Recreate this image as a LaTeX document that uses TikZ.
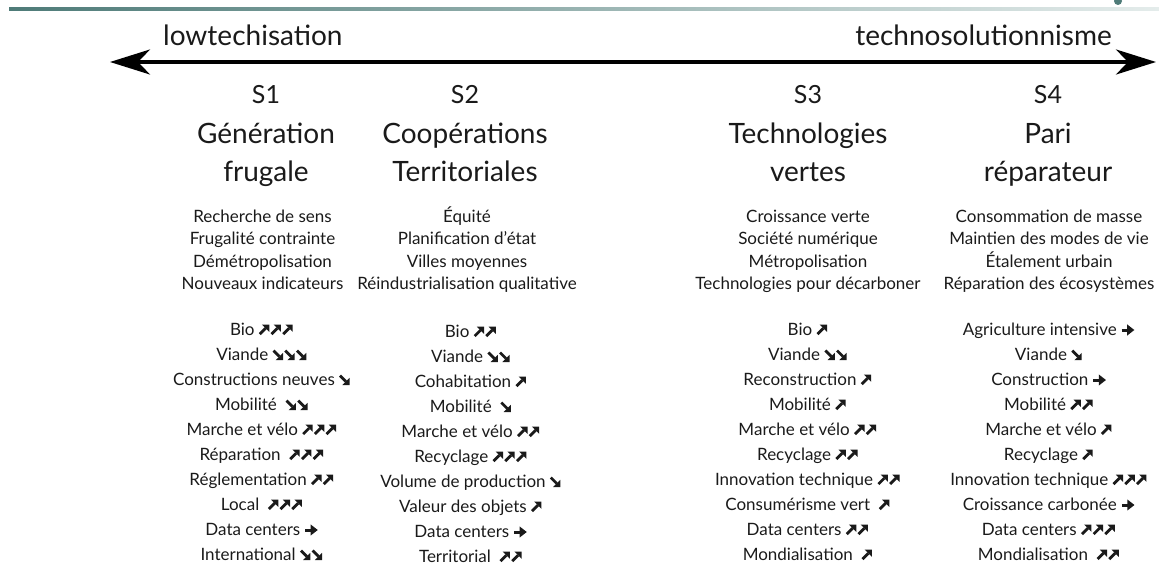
\documentclass[tikz,border=0pt]{standalone}
\usepackage{fontspec}
\setmainfont{Lato}
\usetikzlibrary{arrows.meta}
\definecolor{barteal}{HTML}{4E7B78}
\definecolor{barlight}{HTML}{E4ECEB}
\definecolor{ink}{HTML}{1A1A1A}
% trend glyphs: rising, falling, steady
\newcommand\tup{\tikz[x=1pt,y=1pt,baseline=0pt]{%
  \useasboundingbox (0,0) rectangle (11.7,10);
  \draw[ink, line width=2.8pt] (0.9,0.9) -- (6.8,6.8);
  \fill[ink] (10.4,10.4) -- (3.1,10.4) -- (10.4,3.1) -- cycle;}}
\newcommand\tdn{\tikz[x=1pt,y=1pt,baseline=0pt]{%
  \useasboundingbox (0,0) rectangle (11.7,10);
  \draw[ink, line width=2.8pt] (0.9,9.4) -- (6.8,3.5);
  \fill[ink] (10.4,-0.1) -- (3.1,-0.1) -- (10.4,7.2) -- cycle;}}
\newcommand\trt{\tikz[x=1pt,y=1pt,baseline=0pt]{%
  \useasboundingbox (0,0) rectangle (14,10);
  \draw[ink, line width=3pt] (0.5,5) -- (7,5);
  \fill[ink] (6,10.6) -- (13.2,5) -- (6,-0.6) -- cycle;}}
\begin{document}
\begin{tikzpicture}[x=1pt,y=-1pt,
  axislabel/.style={font=\fontsize{28}{28}\selectfont, text=ink, inner sep=0pt},
  snum/.style={font=\fontsize{25}{25}\selectfont, text=ink, inner sep=0pt, anchor=base},
  head/.style={font=\fontsize{28}{28}\selectfont, text=ink, inner sep=0pt, anchor=base},
  body/.style={font=\fontsize{17}{17}\selectfont, text=ink, inner sep=0pt, anchor=base},
  item/.style={font=\fontsize{17}{17}\selectfont, text=ink, inner sep=0pt, anchor=base},
  axis/.style={line width=3.5pt, {Stealth[length=40pt,width=25pt,inset=12pt]}-{Stealth[length=40pt,width=25pt,inset=12pt]}}]
\useasboundingbox (0,0) rectangle (1159,567);

% header band
\shade[left color=barteal, right color=barlight] (9,8) rectangle (1159,11);
\fill[barteal] (1118,1) circle (4);

% axis between the two extremes
\coordinate (lo) at (110,62);
\coordinate (hi) at (1156,62);
\draw[axis] (lo) -- (hi);
\node[axislabel, anchor=base west] (lowtech) at (163,46) {lowtechisation};
\node[axislabel, anchor=base east] (techno) at (1112,46) {technosolutionnisme};

% scenario titles
\node[snum] (s1n) at (266,104) {S1};
\node[snum] (s2n) at (465,104) {S2};
\node[snum] (s3n) at (808,104) {S3};
\node[snum] (s4n) at (1048,104) {S4};
\foreach \t [count=\i] in {Génération, frugale}
  \node[head] (s1h\i) at (266,{143+(\i-1)*38.5}) {\t};
\foreach \t [count=\i] in {Coopérations, Territoriales}
  \node[head] (s2h\i) at (465,{143+(\i-1)*38.5}) {\t};
\foreach \t [count=\i] in {Technologies, vertes}
  \node[head] (s3h\i) at (808,{143+(\i-1)*38.5}) {\t};
\foreach \t [count=\i] in {Pari, réparateur}
  \node[head] (s4h\i) at (1048,{143+(\i-1)*38.5}) {\t};

% scenario descriptions
\foreach \t [count=\i] in {Recherche de sens, Frugalité contrainte, Démétropolisation, Nouveaux indicateurs}
  \node[body] (s1b\i) at (262.5,{222+(\i-1)*22.5}) {\t};
\foreach \t [count=\i] in {Équité, Planification d'état, Villes moyennes, Réindustrialisation qualitative}
  \node[body] (s2b\i) at (467,{222+(\i-1)*22.5}) {\t};
\foreach \t [count=\i] in {Croissance verte, Société numérique, Métropolisation, Technologies pour décarboner}
  \node[body] (s3b\i) at (808,{222+(\i-1)*22.5}) {\t};
\foreach \t [count=\i] in {Consommation de masse, Maintien des modes de vie, Étalement urbain, Réparation des écosystèmes}
  \node[body] (s4b\i) at (1049,{222+(\i-1)*22.5}) {\t};

% trends
\foreach \t [count=\i] in {Bio \tup\tup\tup, Viande \tdn\tdn\tdn, Constructions neuves \tdn,
    Mobilité\ \ \tdn\tdn, Marche et vélo \tup\tup\tup, Réparation\ \ \tup\tup\tup,
    Réglementation \tup\tup, Local\ \ \tup\tup\tup, Data centers \trt, International \tdn\tdn}
  \node[item] (s1t\i) at (262,{335+(\i-1)*25}) {\t};
\foreach \t [count=\i] in {Bio \tup\tup, Viande \tdn\tdn, Cohabitation \tup,
    Mobilité\ \ \tdn, Marche et vélo \tup\tup, Recyclage \tup\tup\tup,
    Volume de production \tdn, Valeur des objets \tup, Data centers \trt, Territorial\ \ \tup\tup}
  \node[item] (s2t\i) at (471,{337+(\i-1)*25}) {\t};
\foreach \t [count=\i] in {Bio \tup, Viande \tdn\tdn, Reconstruction \tup,
    Mobilité \tup, Marche et vélo \tup\tup, Recyclage \tup\tup,
    Innovation technique \tup\tup, Consumérisme vert\ \ \tup, Data centers \tup\tup, Mondialisation\ \ \tup}
  \node[item] (s3t\i) at (808,{335+(\i-1)*25}) {\t};
\foreach \t [count=\i] in {Agriculture intensive \trt, Viande \tdn, Construction \trt,
    Mobilité \tup\tup, Marche et vélo \tup, Recyclage \tup,
    Innovation technique \tup\tup\tup, Croissance carbonée \trt, Data centers \tup\tup\tup, Mondialisation\ \ \tup\tup}
  \node[item] (s4t\i) at (1049,{335+(\i-1)*25}) {\t};
\end{tikzpicture}
\end{document}
